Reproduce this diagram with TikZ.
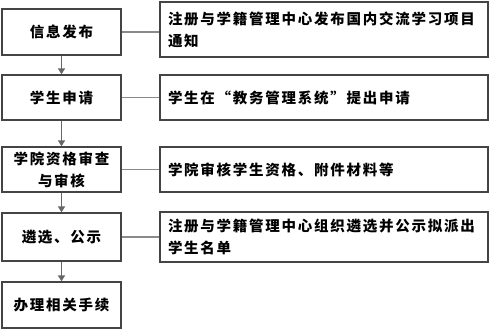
\documentclass[tikz,border=0pt]{standalone}
\usepackage{fontspec}
\newfontfamily\cjk{Noto Sans CJK SC}[LetterSpace=12]
\usetikzlibrary{arrows.meta}
\definecolor{edgecol}{HTML}{444444}
\definecolor{linkcol}{HTML}{8A8A8A}
\definecolor{arrcol}{HTML}{666666}
\begin{document}
\begin{tikzpicture}[x=1pt,y=1pt,
  stepbox/.style={draw=edgecol, line width=1.3pt, fill=white, minimum width=119pt,
    inner sep=0pt, align=center, font=\cjk\bfseries\fontsize{14.5}{22}\selectfont},
  notebox/.style={draw=edgecol, line width=1.3pt, fill=white, inner xsep=8pt, inner ysep=0pt,
    text width=312pt, align=left, font=\cjk\bfseries\fontsize{14.5}{22}\selectfont},
  flow/.style={draw=arrcol, line width=1.5pt, -{Triangle[width=7pt,length=6pt]}},
  link/.style={draw=linkcol, line width=1.5pt}]
\useasboundingbox (0,0) rectangle (491,332);
% left column
\node[stepbox, minimum height=46pt] (b1) at (61.5,300) {信息发布};
\node[stepbox, minimum height=45pt] (b2) at (61.5,234.5) {学生申请};
\node[stepbox, minimum height=45pt] (b3) at (61.5,162.5) {学院资格审查\\与审核};
\node[stepbox, minimum height=48pt] (b4) at (61.5,95) {遴选、公示};
\node[stepbox, minimum height=46pt] (b5) at (61.5,27) {办理相关手续};
% right column
\node[notebox, minimum height=55pt] (r1) at (324,302.5) {注册与学籍管理中心发布国内交流学习项目\\通知};
\node[notebox, minimum height=45pt] (r2) at (324,234.5) {学生在“教务管理系统”提出申请};
\node[notebox, minimum height=45pt] (r3) at (324,162.5) {学院审核学生资格、附件材料等};
\node[notebox, minimum height=50pt] (r4) at (324,95) {注册与学籍管理中心组织遴选并公示拟派出\\学生名单};
% flow arrows
\draw[flow] (b1) -- (b2);
\draw[flow] (b2) -- (b3);
\draw[flow] (b3) -- (b4);
\draw[flow] (b4) -- (b5);
% links
\draw[link] (b1.east) -- (r1.west |- b1.east);
\draw[link] (b2.east) -- (r2.west |- b2.east);
\draw[link] (b3.east) -- (r3.west |- b3.east);
\draw[link] (b4.east) -- (r4.west |- b4.east);
\end{tikzpicture}
\end{document}
